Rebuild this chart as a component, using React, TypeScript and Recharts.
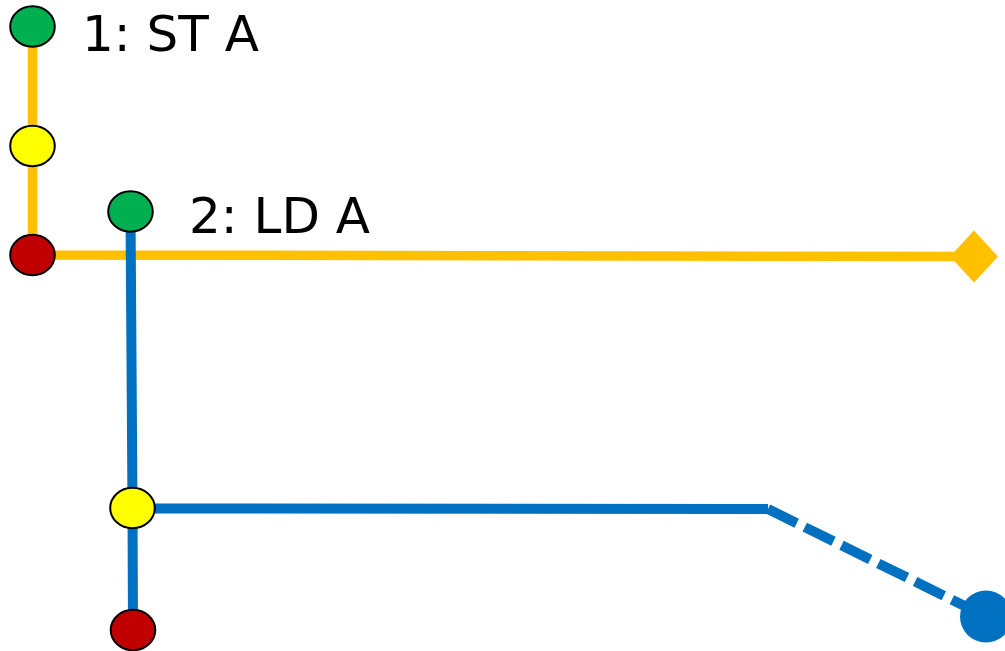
import { ComposedChart, Line, XAxis, YAxis } from "recharts";

// route 1: ST A (orange)
const stX = [32.5, 32.5, 32.5, 974];
const stY = [26.5, 146, 255, 256.5];
const stStage = ["start", "mid", "stop", "goal"];

// route 2: LD A (blue)
const ldX = [130.5, 132.5, 133];
const ldY = [211.5, 508, 630];
const ldStage = ["start", "mid", "stop"];
const ldRunX = [133, 768];
const ldRunY = [508.5, 509];
const ldDashX = [768, 986];
const ldDashY = [509, 616.5];
const ldDashStage = ["none", "end"];

const labels = ["1: ST A", "2: LD A"];

const toRows = (xs: number[], ys: number[], stages?: string[]) =>
  xs.map((x, i) => ({ x, y: ys[i], stage: stages ? stages[i] : "none" }));

const ORANGE = "#FFC000";
const BLUE = "#0070C0";
const stageFill: Record<string, string> = {
  start: "#00B050",
  mid: "#FFFF00",
  stop: "#C00000",
};

function renderMarker(props: any) {
  const { cx, cy, index, payload } = props;
  const key = `m-${index}-${cx}`;
  const stage = payload?.stage;
  if (stage === "goal") {
    const hx = 24;
    const hy = 26;
    return (
      <polygon
        key={key}
        points={`${cx - hx},${cy} ${cx},${cy - hy} ${cx + hx},${cy} ${cx},${cy + hy}`}
        fill={ORANGE}
      />
    );
  }
  if (stage === "end") {
    return <circle key={key} cx={cx} cy={cy} r={26} fill={BLUE} />;
  }
  if (stageFill[stage]) {
    return (
      <ellipse
        key={key}
        cx={cx}
        cy={cy}
        rx={22.3}
        ry={20.3}
        fill={stageFill[stage]}
        stroke="#000"
        strokeWidth={2}
      />
    );
  }
  return <g key={key} />;
}

const makeLabel = (text: string, dx: number, dy: number) => (props: any) => {
  const { x, y, index } = props;
  if (index !== 0) return <g key={`l-${index}`} />;
  return (
    <text
      key={`l-${index}`}
      x={x + dx}
      y={y + dy}
      fontFamily="'DejaVu Sans', Verdana, sans-serif"
      fontSize={50}
      fill="#000"
    >
      {text}
    </text>
  );
};

export default function App() {
  const W = 1005;
  const H = 651;
  return (
    <div style={{ position: "absolute", left: 0, top: 0, width: W, height: H, background: "#fff" }}>
      <ComposedChart width={W} height={H} margin={{ top: 0, right: 0, bottom: 0, left: 0 }}>
        <XAxis type="number" dataKey="x" domain={[0, W]} hide />
        <YAxis type="number" dataKey="y" domain={[0, H]} reversed hide />
        <Line
          data={toRows(stX, stY, stStage)}
          dataKey="y"
          type="linear"
          stroke={ORANGE}
          strokeWidth={9.5}
          dot={renderMarker}
          activeDot={false}
          label={makeLabel(labels[0], 49.5, 24)}
          isAnimationActive={false}
        />
        <Line
          data={toRows(ldRunX, ldRunY)}
          dataKey="y"
          type="linear"
          stroke={BLUE}
          strokeWidth={10}
          dot={false}
          activeDot={false}
          isAnimationActive={false}
        />
        <Line
          data={toRows(ldDashX, ldDashY, ldDashStage)}
          dataKey="y"
          type="linear"
          stroke={BLUE}
          strokeWidth={10}
          strokeDasharray="32 9"
          dot={renderMarker}
          activeDot={false}
          isAnimationActive={false}
        />
        <Line
          data={toRows(ldX, ldY, ldStage)}
          dataKey="y"
          type="linear"
          stroke={BLUE}
          strokeWidth={10}
          dot={renderMarker}
          activeDot={false}
          label={makeLabel(labels[1], 58.5, 21.5)}
          isAnimationActive={false}
        />
      </ComposedChart>
    </div>
  );
}
